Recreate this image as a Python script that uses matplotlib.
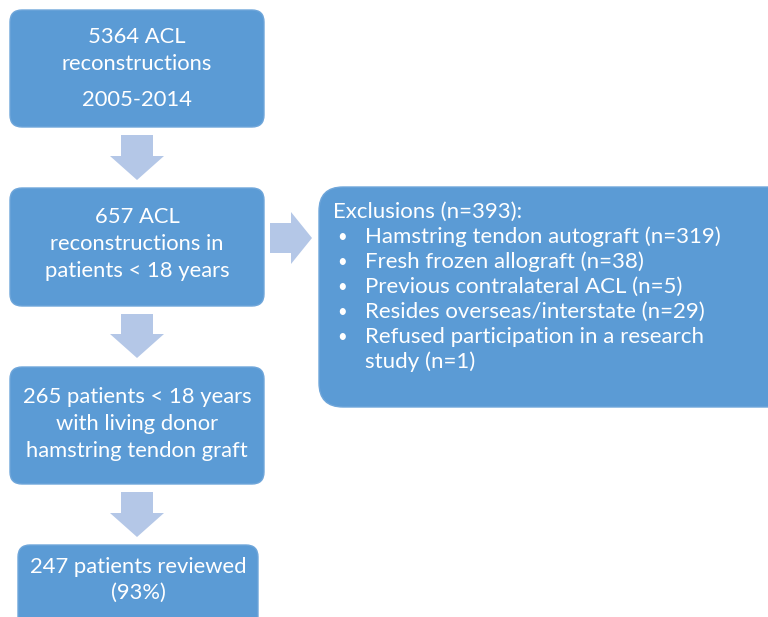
import matplotlib.pyplot as plt
from matplotlib.patches import FancyBboxPatch, Polygon

# flowchart content
box_texts = [
    ["5364 ACL", "reconstructions", "2005-2014"],
    ["657 ACL", "reconstructions in", "patients < 18 years"],
    ["265 patients < 18 years", "with living donor", "hamstring tendon graft"],
    ["247 patients reviewed", "(93%)"],
]
excl_title = "Exclusions (n=393):"
excl_items = [
    "Hamstring tendon autograft (n=319)",
    "Fresh frozen allograft (n=38)",
    "Previous contralateral ACL (n=5)",
    "Resides overseas/interstate (n=29)",
    ["Refused participation in a research", "study (n=1)"],
]

# layout (pixels)
box_pos = [(10, 10, 254, 117), (10, 188, 254, 118), (10, 367, 254, 117), (18, 545, 240, 90)]
line_y = [[37, 64, 100], [217, 244, 271], [397, 424, 451], [567, 593]]
down_arrows = [(127, 180), (306, 358), (484, 537)]
excl_box = (319, 187, 480, 220)

BLUE = "#5b9bd5"
LIGHT = "#b4c7e7"
FONT = "Lato"

fig = plt.figure(figsize=(7.68, 6.17), dpi=100)
ax = fig.add_axes([0, 0, 1, 1])
ax.set_xlim(0, 768)
ax.set_ylim(617, 0)
ax.axis("off")

for (x, y, w, h), lines, ys in zip(box_pos, box_texts, line_y):
    ax.add_patch(FancyBboxPatch((x, y), w, h, boxstyle="round,pad=0,rounding_size=12",
                                fc=BLUE, ec="#6fa6da", lw=1))
    for t, ty in zip(lines, ys):
        ax.text(x + w / 2, ty, t, ha="center", va="center", color="white",
                fontsize=15.8, family=FONT)

# down arrows
cx = 137
for y0, y1 in down_arrows:
    yh = y1 - 24
    ax.add_patch(Polygon([(cx - 16, y0 + 8), (cx + 16, y0 + 8), (cx + 16, yh), (cx + 27, yh),
                          (cx, y1), (cx - 27, yh), (cx - 16, yh)], closed=True, fc=LIGHT, ec="none"))

# right arrow
ay = 238
ax.add_patch(Polygon([(270, ay - 15), (291, ay - 15), (291, ay - 26), (312, ay), (291, ay + 26),
                      (291, ay + 15), (270, ay + 15)], closed=True, fc=LIGHT, ec="none"))

x, y, w, h = excl_box
ax.add_patch(FancyBboxPatch((x, y), w, h, boxstyle="round,pad=0,rounding_size=24",
                            fc=BLUE, ec="#6fa6da", lw=1))
ax.text(333, 212, excl_title, ha="left", va="center", color="white", fontsize=16, family=FONT)
ty = 212
for item in excl_items:
    lines = item if isinstance(item, list) else [item]
    ty += 25
    ax.text(337, ty, "\u2022", ha="left", va="center", color="white", fontsize=12, family=FONT)
    for i, t in enumerate(lines):
        if i > 0:
            ty += 25
        ax.text(365, ty, t, ha="left", va="center", color="white", fontsize=16, family=FONT)

fig.savefig("out.png", dpi=100)
